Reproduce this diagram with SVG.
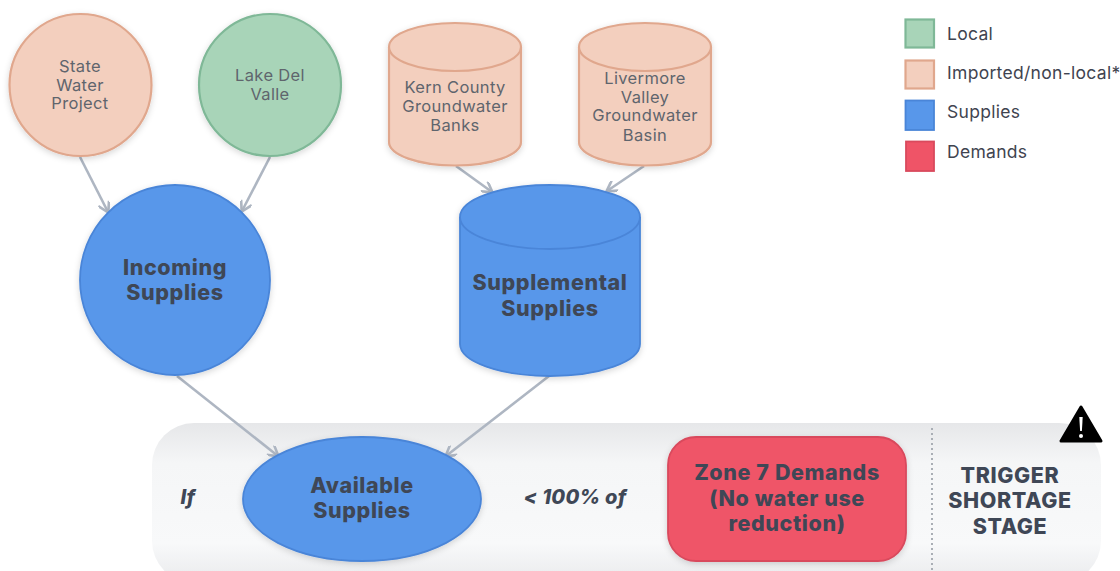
<svg xmlns="http://www.w3.org/2000/svg" width="1120" height="571" viewBox="0 0 1120 571">
<style>
text{font-family:"Inter","Noto Sans","Liberation Sans",sans-serif;text-anchor:middle;fill:#5f656d}
.s{font-size:16.5px;letter-spacing:.35px}
.b{font-size:21.5px;font-weight:800;letter-spacing:.6px;fill:#3f4756}
.i{font-size:20px;font-weight:800;font-style:italic;letter-spacing:.3px;fill:#3f4756}
.l{font-size:17.5px;text-anchor:start;letter-spacing:.3px;fill:#3f4450}
.imp{fill:#f3cfbe;stroke:#e0a78d;stroke-width:2.2}
.loc{fill:#a8d4b8;stroke:#7fb897;stroke-width:2.2}
.sup{fill:#5897ea;stroke:#4a85d8;stroke-width:1.8}
.dem{fill:#ef5467;stroke:#d94a5d;stroke-width:1.8}
.c{fill:none;stroke:#aeb6c2;stroke-width:2.6}
.sh{filter:url(#ds)}
</style>
<defs>
<linearGradient id="pg" x1="0" y1="0" x2="0" y2="1"><stop offset="0" stop-color="#e6e7e9"/><stop offset=".25" stop-color="#f5f6f7"/><stop offset=".75" stop-color="#f8f9fa"/><stop offset="1" stop-color="#e9eaec"/></linearGradient>
<filter id="ds" x="-15%" y="-15%" width="130%" height="130%"><feDropShadow dx="0" dy="2" stdDeviation="3" flood-color="#000" flood-opacity=".16"/></filter>
<marker id="a" viewBox="0 0 10 10" refX="9" refY="5" markerWidth="12" markerHeight="12" markerUnits="userSpaceOnUse" orient="auto"><path d="M1 0L9.5 5L1 10" fill="none" stroke="#aeb6c2" stroke-width="2.2"/></marker>
</defs>
<g id="panel"><rect x="152" y="423" width="949" height="160" rx="42" fill="url(#pg)"/>
<line x1="932" y1="428" x2="932" y2="571" stroke="#a9aeb5" stroke-width="2" stroke-dasharray="2 3"/>
<text class="i" x="188" y="504">If</text><text class="i" x="575" y="504">&lt; 100% of</text></g>
<g id="connectors">
<path class="c" marker-end="url(#a)" d="M80 157L108 212"/>
<path class="c" marker-end="url(#a)" d="M270 157L242 211"/>
<path class="c" marker-end="url(#a)" d="M456 166L492 192"/>
<path class="c" marker-end="url(#a)" d="M644 166L607 191"/>
<path class="c" marker-end="url(#a)" d="M177 376L278 456"/>
<path class="c" marker-end="url(#a)" d="M549 376L446 456"/>
</g>
<g id="state-water-project"><circle class="imp sh" cx="80.500" cy="85" r="71"/><text class="s" x="80" y="72">State</text><text class="s" x="80" y="91">Water</text><text class="s" x="80" y="109">Project</text></g>
<g id="lake-del-valle"><circle class="loc sh" cx="270" cy="85" r="71"/><text class="s" x="270" y="81">Lake Del</text><text class="s" x="270" y="100">Valle</text></g>
<g id="incoming-supplies"><circle class="sup sh" cx="175" cy="280" r="95"/><text class="b" x="175" y="275">Incoming</text><text class="b" x="175" y="300">Supplies</text></g>
<g id="kern"><path class="imp sh" d="M389 47A66 24 0 0 1 521 47V142A66 23.500 0 0 1 389 142Z"/><path class="imp" d="M389 47A66 24 0 0 0 521 47" fill="none"/><text class="s" x="455" y="93">Kern County</text><text class="s" x="455" y="112">Groundwater</text><text class="s" x="455" y="131">Banks</text></g>
<g id="livermore"><path class="imp sh" d="M579 47A66 24 0 0 1 711 47V142A66 23.500 0 0 1 579 142Z"/><path class="imp" d="M579 47A66 24 0 0 0 711 47" fill="none"/><text class="s" x="645" y="84">Livermore</text><text class="s" x="645" y="103">Valley</text><text class="s" x="645" y="121">Groundwater</text><text class="s" x="645" y="141">Basin</text></g>
<g id="supplemental-supplies"><path class="sup sh" d="M460 217A90 32 0 0 1 640 217V344A90 32 0 0 1 460 344Z"/><path class="sup" d="M460 217A90 32 0 0 0 640 217" fill="none"/><text class="b" x="550" y="290">Supplemental</text><text class="b" x="550" y="316">Supplies</text></g>
<g id="available-supplies"><ellipse class="sup sh" cx="362" cy="499" rx="119" ry="62"/><text class="b" x="362" y="493">Available</text><text class="b" x="362" y="518">Supplies</text></g>
<g id="zone-7-demands"><rect class="dem sh" x="668" y="437" width="238" height="124" rx="28"/><text class="b" x="787" y="480">Zone 7 Demands</text><text class="b" x="787" y="506">(No water use</text><text class="b" x="787" y="531">reduction)</text></g>
<g id="trigger"><text class="b" x="1010" y="483">TRIGGER</text><text class="b" x="1010" y="508">SHORTAGE</text><text class="b" x="1010" y="534">STAGE</text></g>
<g id="warning"><path d="M1081 407L1101 441H1061Z" fill="#000" stroke="#000" stroke-width="3" stroke-linejoin="round"/><path d="M1079.300 417h3.400l-.8 14h-1.800z" fill="#fff"/><circle cx="1081" cy="436" r="2" fill="#fff"/></g>
<g id="legend">
<rect class="loc" x="905.500" y="19.500" width="28.500" height="28"/><text class="l" x="947" y="40">Local</text>
<rect class="imp" x="905.500" y="60.500" width="28.500" height="28"/><text class="l" x="947" y="79">Imported/non-local*</text>
<rect class="sup" x="905.500" y="100.500" width="28.500" height="29.500"/><text class="l" x="947" y="118">Supplies</text>
<rect class="dem" x="906" y="141.500" width="28" height="29.500"/><text class="l" x="947" y="158">Demands</text>
</g>
</svg>
